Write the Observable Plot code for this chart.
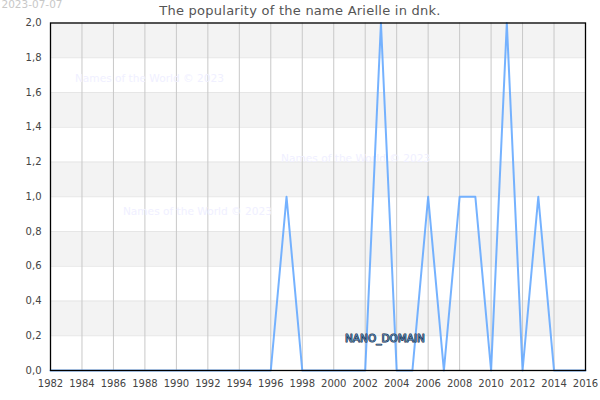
<!DOCTYPE html>
<html>
<head>
<meta charset="utf-8">
<script src="https://cdn.jsdelivr.net/npm/d3@7"></script>
<script src="https://cdn.jsdelivr.net/npm/@observablehq/plot@0.6"></script>
<style>
html,body{margin:0;padding:0;background:#fff;}
svg{display:block;}
</style>
</head>
<body>
<div id="chart"></div>
<script>
const years = [1982,1983,1984,1985,1986,1987,1988,1989,1990,1991,1992,1993,1994,1995,1996,1997,1998,1999,2000,2001,2002,2003,2004,2005,2006,2007,2008,2009,2010,2011,2012,2013,2014,2015,2016];
const popularity = [0,0,0,0,0,0,0,0,0,0,0,0,0,0,0,1,0,0,0,0,0,2,0,0,1,0,1,1,0,2,0,1,0,0,0];
const xTicks = [1982,1984,1986,1988,1990,1992,1994,1996,1998,2000,2002,2004,2006,2008,2010,2012,2014,2016];
const yTicks = [0,0.2,0.4,0.6,0.8,1.0,1.2,1.4,1.6,1.8,2.0];
const bandLow = [0.2,0.6,1.0,1.4,1.8];
const bandHigh = [0.4,0.8,1.2,1.6,2.0];
const titleText = "The popularity of the name Arielle in dnk.";
const dateText = "2023-07-07";
const watermarkText = "Names of the World © 2023";
const watermarkYears = [1983.55,1996.65,1986.6];
const watermarkValues = [1.68,1.22,0.915];
const domainText = "NANO_DOMAIN";

const series = years.map((year,i)=>({year,value:popularity[i]}));
const bands = bandLow.map((low,i)=>({low,high:bandHigh[i]}));
const marks = watermarkYears.map((x,i)=>({x,y:watermarkValues[i]}));
const fontFamily = "DejaVu Sans";

const chart = Plot.plot({
  width:600,height:400,
  marginLeft:50,marginRight:15,marginTop:22.5,marginBottom:30,
  style:{fontFamily,background:"#fff",overflow:"hidden"},
  x:{domain:[1982,2016],label:null,ticks:xTicks,tickFormat:d=>String(d),tickSize:0},
  y:{domain:[0,2],label:null,ticks:yTicks,tickFormat:d=>d.toFixed(1).replace(".",","),tickSize:0},
  marks:[
    Plot.rectY(bands,{x1:1982,x2:2016,y1:"low",y2:"high",fill:"#f3f3f3"}),
    Plot.ruleY(yTicks,{stroke:"#e6e6e6",strokeWidth:1}),
    Plot.ruleX(xTicks,{stroke:"#c8c8c8",strokeWidth:1}),
    Plot.text(marks,{x:"x",y:"y",text:()=>watermarkText,textAnchor:"start",fill:"#f0f0ff",fontSize:10.6}),
    Plot.line(series,{x:"year",y:"value",stroke:"#66aaff",strokeWidth:2,strokeOpacity:0.9}),
    Plot.text([{x:2001.35,y:0.185}],{x:"x",y:"y",text:()=>domainText,textAnchor:"middle",dx:30,fill:"#5a82ac",stroke:"#0e2540",strokeWidth:1,fontSize:10.5}),
    Plot.frame({stroke:"#000",strokeWidth:1.3}),
    Plot.axisX({ticks:xTicks,tickFormat:d=>String(d),tickSize:0,tickPadding:9.5,fill:"#444",fontSize:10,label:null}),
    Plot.axisY({ticks:yTicks,tickFormat:d=>d.toFixed(1).replace(".",","),tickSize:0,tickPadding:9,fill:"#444",fontSize:10,label:null}),
    Plot.text([titleText],{frameAnchor:"top",dy:-17,dx:-18,fill:"#555",fontSize:13,lineAnchor:"top"}),
    Plot.text([dateText],{frameAnchor:"top-left",dx:-49,dy:-22,fill:"#c8c8c8",fontSize:10.5,lineAnchor:"top",textAnchor:"start"})
  ]
});
d3.select(chart).selectAll("text").filter(function(){return this.textContent===titleText;}).style("letter-spacing","0.25px");
document.getElementById("chart").append(chart);
</script>
</body>
</html>
